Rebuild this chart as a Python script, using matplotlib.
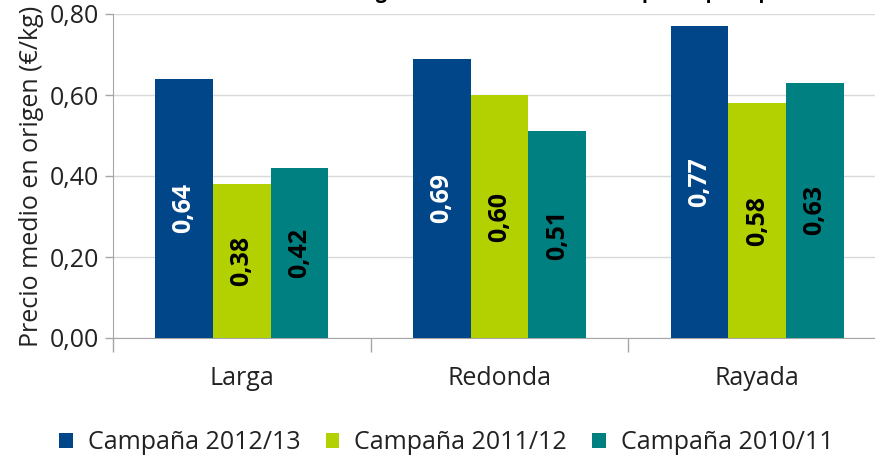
import matplotlib
matplotlib.use("Agg")
import matplotlib.pyplot as plt
import numpy as np

categories = ["Larga", "Redonda", "Rayada"]
series_names = ["Campaña 2012/13", "Campaña 2011/12", "Campaña 2010/11"]
values_2012 = [0.64, 0.69, 0.77]
values_2011 = [0.38, 0.60, 0.58]
values_2010 = [0.42, 0.51, 0.63]
yticks = [0.0, 0.2, 0.4, 0.6, 0.8]
ytick_labels = ["0,00", "0,20", "0,40", "0,60", "0,80"]
title = "Precio en origen en las últimas tres campañas por tipo"
ylabel = "Precio medio en origen (€/kg)"

colors = ["#02468A", "#B3D000", "#008080"]
label_colors = ["white", "black", "black"]

plt.rcParams['font.family'] = ['Open Sans', 'DejaVu Sans']

W, H = 875, 459
fig = plt.figure(figsize=(W / 100, H / 100), dpi=100)
ax = fig.add_axes([113 / W, (H - 338) / H, (886 - 113) / W, (338 - 14) / H])

series = [values_2012, values_2011, values_2010]
x = np.arange(len(categories))
bw = 0.224
for i, (vals, c, lc, name) in enumerate(zip(series, colors, label_colors, series_names)):
    pos = x + (i - 1) * bw
    ax.bar(pos, vals, width=bw, color=c, label=name, zorder=3)
    for p, v in zip(pos, vals):
        ax.text(p, v / 2, f"{v:.2f}".replace(".", ","), rotation=90,
                ha="center", va="center", color=lc, fontsize=18,
                fontweight="bold", zorder=4)

ax.set_xlim(-0.5, len(categories) - 0.5)
ax.set_ylim(0, 0.8)
ax.set_yticks(yticks)
ax.set_yticklabels(ytick_labels, fontsize=18, color="#222222")
ax.set_xticks(x)
ax.set_xticklabels(categories, fontsize=18, color="#222222")
ax.set_xticks(np.arange(len(categories) + 1) - 0.5, minor=True)
ax.tick_params(axis="x", which="major", length=0, pad=20)
ax.tick_params(axis="x", which="minor", length=10, color="#A6A6A6", width=1)
ax.tick_params(axis="y", which="major", length=6, color="#A6A6A6", width=1, pad=4)

ax.grid(axis="y", color="#D9D9D9", linewidth=1, zorder=0)
ax.set_axisbelow(True)
for s in ["top", "right"]:
    ax.spines[s].set_visible(False)
ax.spines["left"].set_color("#A6A6A6")
ax.spines["bottom"].set_color("#A6A6A6")

ax.set_ylabel(ylabel, fontsize=18, color="#222222", labelpad=4)

fig.text(0.593, 1 + 2 / H, title, ha="center", va="baseline",
         fontsize=14, fontweight="bold")

leg = fig.legend(loc="center", bbox_to_anchor=(0.51, 0.035), ncol=3,
                 frameon=False, fontsize=18, handlelength=0.55,
                 handleheight=0.55, columnspacing=1.0, handletextpad=0.6)
for t in leg.get_texts():
    t.set_color("#222222")

fig.savefig("out.png", dpi=100)
